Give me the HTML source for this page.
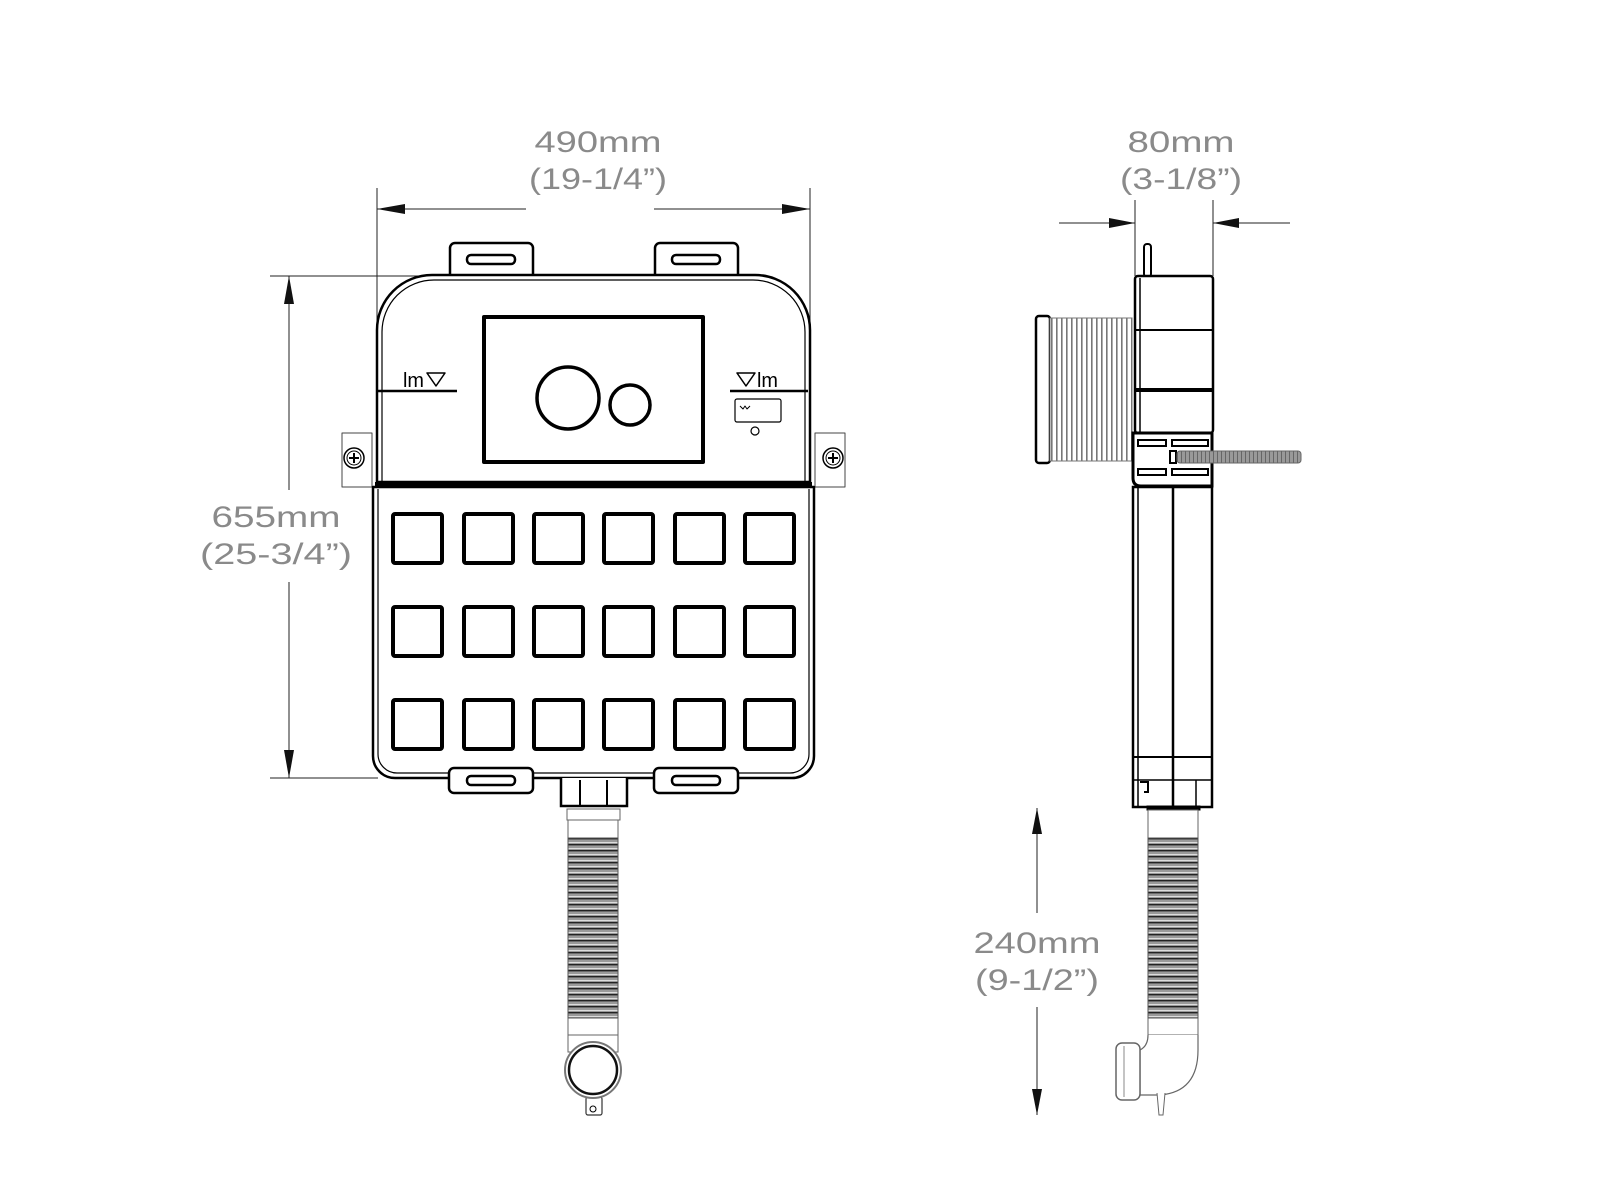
<!DOCTYPE html>
<html><head><meta charset="utf-8"><style>html,body{margin:0;padding:0;background:#fff}svg{display:block}</style></head>
<body>
<svg xmlns="http://www.w3.org/2000/svg" width="1600" height="1200" viewBox="0 0 1600 1200">
<defs>
<pattern id="rib" width="6" height="6" patternUnits="userSpaceOnUse">
<rect width="6" height="6" fill="#9a9a9a"/><rect y="4" width="6" height="1.4" fill="#222"/><rect y="2" width="6" height="1" fill="#ddd"/>
</pattern>
<pattern id="ribv" width="5" height="5" patternUnits="userSpaceOnUse">
<rect width="5" height="5" fill="#fff"/><rect x="1" width="1.6" height="5" fill="#777"/>
</pattern>
<pattern id="thr" width="4" height="4" patternUnits="userSpaceOnUse">
<rect width="4" height="4" fill="#999"/><rect x="1" width="1" height="4" fill="#666"/>
</pattern>
</defs>
<g font-family="Liberation Sans, sans-serif" font-size="30" fill="#8a8a8a" text-anchor="middle">
<text x="598" y="152" textLength="127" lengthAdjust="spacingAndGlyphs">490mm</text>
<text x="598" y="189" textLength="138" lengthAdjust="spacingAndGlyphs">(19-1/4”)</text>
<text x="276" y="527" textLength="129" lengthAdjust="spacingAndGlyphs">655mm</text>
<text x="276" y="564" textLength="152" lengthAdjust="spacingAndGlyphs">(25-3/4”)</text>
<text x="1181" y="152" textLength="107" lengthAdjust="spacingAndGlyphs">80mm</text>
<text x="1181" y="189" textLength="122" lengthAdjust="spacingAndGlyphs">(3-1/8”)</text>
<text x="1037" y="953" textLength="127" lengthAdjust="spacingAndGlyphs">240mm</text>
<text x="1037" y="990" textLength="124" lengthAdjust="spacingAndGlyphs">(9-1/2”)</text>
</g>
<g stroke="#222" stroke-width="1" fill="none">
<line x1="377" y1="188" x2="377" y2="440"/><line x1="810" y1="188" x2="810" y2="470"/>
<line x1="377" y1="209" x2="526" y2="209"/><line x1="654" y1="209" x2="810" y2="209"/>
<line x1="270" y1="276" x2="420" y2="276"/><line x1="270" y1="778" x2="378" y2="778"/>
<line x1="289" y1="276" x2="289" y2="490"/><line x1="289" y1="582" x2="289" y2="778"/>
<line x1="1135" y1="200" x2="1135" y2="276"/><line x1="1213" y1="200" x2="1213" y2="276"/>
<line x1="1059" y1="223" x2="1135" y2="223"/><line x1="1213" y1="223" x2="1290" y2="223"/>
<line x1="1037" y1="808" x2="1037" y2="913"/><line x1="1037" y1="1007" x2="1037" y2="1115"/>
</g>
<g fill="#111">
<polygon points="377,209 405,204 405,214"/><polygon points="810,209 782,204 782,214"/>
<polygon points="289,276 284,304 294,304"/><polygon points="289,778 284,750 294,750"/>
<polygon points="1135,223 1109,218 1109,228"/><polygon points="1213,223 1239,218 1239,228"/>
<polygon points="1037,808 1032,834 1042,834"/><polygon points="1037,1115 1032,1089 1042,1089"/>
</g>
<g stroke="#000" fill="#fff" stroke-linejoin="round">
<rect x="450" y="243" width="83" height="36" rx="5" stroke-width="2.5"/>
<rect x="467" y="255" width="48" height="9" rx="4" stroke-width="2.5"/>
<rect x="655" y="243" width="83" height="36" rx="5" stroke-width="2.5"/>
<rect x="672" y="255" width="48" height="9" rx="4" stroke-width="2.5"/>
<rect x="342" y="433" width="30" height="54" stroke="#444" stroke-width="1"/>
<circle cx="354" cy="458" r="10" stroke-width="1.5"/><circle cx="354" cy="458" r="7" stroke-width="1"/>
<path d="M349 458h10M354 453v10" stroke-width="2"/>
<rect x="815" y="433" width="30" height="54" stroke="#444" stroke-width="1"/>
<circle cx="833" cy="458" r="10" stroke-width="1.5"/><circle cx="833" cy="458" r="7" stroke-width="1"/>
<path d="M828 458h10M833 453v10" stroke-width="2"/>
<path d="M377 482V330A55 55 0 0 1 432 275H755A55 55 0 0 1 810 330V482Z" stroke-width="2.5"/>
<path d="M382 482V332A52 52 0 0 1 434 280H753A52 52 0 0 1 805 332V482" fill="none" stroke-width="1.2"/>
<line x1="375" y1="484" x2="812" y2="484" stroke-width="4"/>
<rect x="484" y="317" width="219" height="145" stroke-width="4"/>
<circle cx="568" cy="398" r="31" stroke-width="3.5"/>
<circle cx="630" cy="405" r="20" stroke-width="3.5"/>
<line x1="378" y1="391" x2="457" y2="391" stroke-width="2.5"/>
<line x1="730" y1="391" x2="808" y2="391" stroke-width="2.5"/>
<polygon points="427,373 445,373 436,386" fill="none" stroke-width="1.5"/>
<polygon points="737,373 755,373 746,386" fill="none" stroke-width="1.5"/>
<rect x="735" y="399" width="46" height="23" rx="2" stroke-width="1.2"/>
<circle cx="755" cy="431" r="4" stroke-width="1.2"/>
<path d="M740 406l3 3 2-3 2 3 3-3" fill="none" stroke-width="1"/>
<path d="M373 487V756A22 22 0 0 0 395 778H792A22 22 0 0 0 814 756V487Z" stroke-width="2.5"/>
<path d="M378 489V754A19 19 0 0 0 397 773H790A19 19 0 0 0 809 754V489" fill="none" stroke-width="1.2"/>
<line x1="378" y1="487" x2="809" y2="487" stroke-width="2"/>
</g>
<g font-family="Liberation Sans, sans-serif" font-size="20" fill="#000">
<text x="403" y="387" textLength="21" lengthAdjust="spacingAndGlyphs">lm</text>
<text x="757" y="387" textLength="21" lengthAdjust="spacingAndGlyphs">lm</text>
</g>
<g stroke="#000" stroke-width="4" fill="#fff">
<rect x="393" y="514" width="49" height="49" rx="2"/><rect x="464" y="514" width="49" height="49" rx="2"/><rect x="534" y="514" width="49" height="49" rx="2"/><rect x="604" y="514" width="49" height="49" rx="2"/><rect x="675" y="514" width="49" height="49" rx="2"/><rect x="745" y="514" width="49" height="49" rx="2"/>
<rect x="393" y="607" width="49" height="49" rx="2"/><rect x="464" y="607" width="49" height="49" rx="2"/><rect x="534" y="607" width="49" height="49" rx="2"/><rect x="604" y="607" width="49" height="49" rx="2"/><rect x="675" y="607" width="49" height="49" rx="2"/><rect x="745" y="607" width="49" height="49" rx="2"/>
<rect x="393" y="700" width="49" height="49" rx="2"/><rect x="464" y="700" width="49" height="49" rx="2"/><rect x="534" y="700" width="49" height="49" rx="2"/><rect x="604" y="700" width="49" height="49" rx="2"/><rect x="675" y="700" width="49" height="49" rx="2"/><rect x="745" y="700" width="49" height="49" rx="2"/>
</g>
<g stroke="#000" fill="#fff">
<rect x="449" y="768" width="84" height="25" rx="5" stroke-width="2.5"/>
<rect x="467" y="776" width="48" height="9" rx="4" stroke-width="2.5"/>
<rect x="654" y="768" width="84" height="25" rx="5" stroke-width="2.5"/>
<rect x="672" y="776" width="48" height="9" rx="4" stroke-width="2.5"/>
<path d="M561 778V806H627V778" stroke-width="2.5"/>
<line x1="580" y1="780" x2="580" y2="806" stroke-width="2"/><line x1="607" y1="780" x2="607" y2="806" stroke-width="2"/>
<rect x="567" y="809" width="53" height="11" stroke="#666" stroke-width="1"/>
<rect x="568" y="820" width="50" height="232" stroke="#666" stroke-width="1"/>
<rect x="568" y="838" width="50" height="180" fill="url(#rib)" stroke="#555" stroke-width="1"/>
<line x1="568" y1="1035" x2="618" y2="1035" stroke="#666" stroke-width="1"/>
<rect x="586" y="1097" width="16" height="18" rx="2" stroke="#333" stroke-width="1.2"/>
<circle cx="593" cy="1109" r="3" stroke-width="1"/>
<circle cx="593" cy="1070" r="28" stroke="#777" stroke-width="2"/>
<circle cx="593" cy="1070" r="24" stroke="#111" stroke-width="2.5"/>
</g>
<g stroke="#000" fill="#fff">
<rect x="1144" y="244" width="7" height="33" rx="3" stroke-width="2"/>
<rect x="1036" y="316" width="14" height="147" rx="3" stroke-width="2.5"/>
<rect x="1050" y="318" width="82" height="143" fill="url(#ribv)" stroke="#777" stroke-width="1"/>
<rect x="1135" y="276" width="78" height="157" rx="3" stroke-width="2.5"/>
<line x1="1140" y1="278" x2="1140" y2="433" stroke-width="1.5"/>
<line x1="1135" y1="330" x2="1213" y2="330" stroke-width="2"/>
<line x1="1135" y1="390" x2="1213" y2="390" stroke-width="4"/>
<path d="M1133 433V478Q1133 486 1141 486H1212V433Z" stroke-width="3"/>
<rect x="1138" y="440" width="28" height="6" stroke-width="2"/><rect x="1172" y="440" width="36" height="6" stroke-width="2"/>
<rect x="1138" y="469" width="28" height="6" stroke-width="2"/><rect x="1172" y="469" width="36" height="6" stroke-width="2"/>
<rect x="1170" y="451" width="6" height="12" stroke-width="2"/>
<rect x="1177" y="451" width="124" height="12" rx="3" fill="url(#thr)" stroke="#666" stroke-width="1"/>
<rect x="1133" y="487" width="79" height="320" stroke-width="2.5"/>
<line x1="1138" y1="487" x2="1138" y2="807" stroke-width="1.5"/>
<line x1="1173" y1="487" x2="1173" y2="807" stroke-width="2.5"/>
<line x1="1133" y1="757" x2="1212" y2="757" stroke-width="2"/>
<line x1="1133" y1="780" x2="1212" y2="780" stroke-width="1.5"/>
<line x1="1196" y1="780" x2="1196" y2="807" stroke-width="1.5"/>
<path d="M1140 782h8v10h-4" fill="none" stroke-width="2"/>
<rect x="1147" y="806" width="53" height="4" fill="#000" stroke-width="1"/>
<rect x="1148" y="810" width="50" height="225" stroke="#666" stroke-width="1"/>
<rect x="1148" y="838" width="50" height="180" fill="url(#rib)" stroke="#555" stroke-width="1"/>
<path d="M1198 1035V1050Q1198 1092 1160 1095H1140V1050Q1148 1046 1148 1035" stroke="#666" stroke-width="1.2"/>
<rect x="1116" y="1043" width="24" height="57" rx="6" stroke="#666" stroke-width="1.5"/>
<line x1="1124" y1="1046" x2="1124" y2="1097" stroke="#888" stroke-width="1"/>
<path d="M1157 1093L1159 1115H1163L1165 1093" stroke="#666" stroke-width="1"/>
</g>
</svg>
</body></html>
